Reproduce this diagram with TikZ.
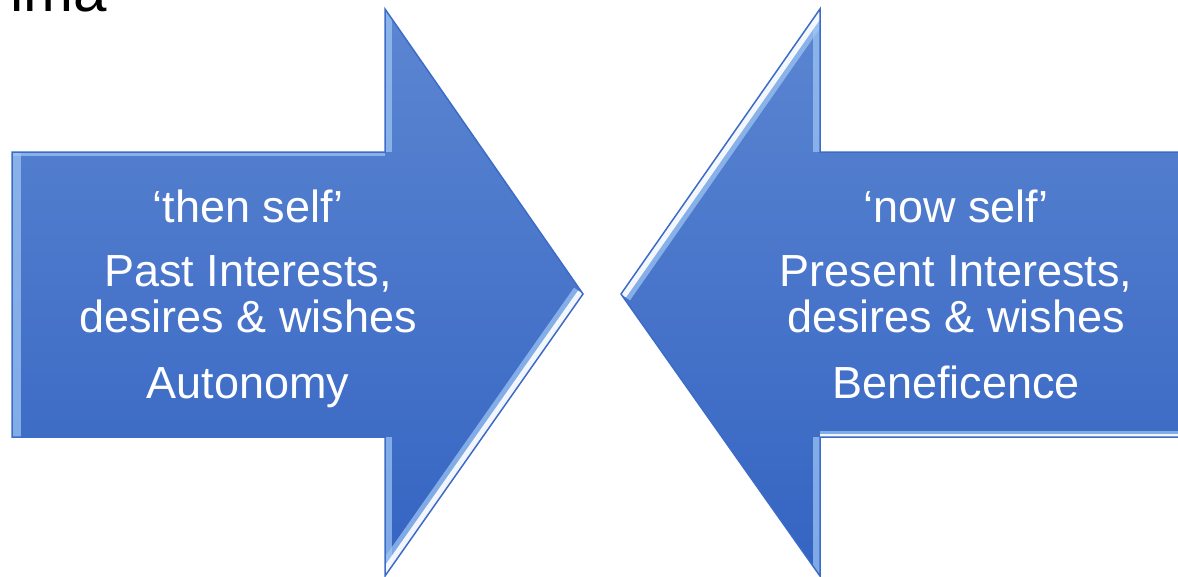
\documentclass[tikz,border=0pt]{standalone}
\usepackage{fontspec}
\setmainfont{Liberation Sans}
\usetikzlibrary{positioning}

\definecolor{arrowtop}{RGB}{92,134,210}
\definecolor{arrowbot}{RGB}{52,100,194}
\definecolor{arrowedge}{RGB}{60,108,200}
\definecolor{bevellight}{RGB}{160,200,245}

\tikzset{
  arrowbody/.style={top color=arrowtop,bottom color=arrowbot,draw=none},
  arrowrim/.style={draw=arrowedge,line width=1.5pt,line join=miter},
  bevel/.style={draw=bevellight,line width=22pt,opacity=0.7},
  glint/.style={draw=white,line width=12pt,opacity=0.9},
  words/.style={text=white,font=\fontsize{45}{46}\selectfont,align=center,anchor=base,inner sep=0pt},
}

\begin{document}
\begin{tikzpicture}[x=1pt,y=-1pt]
  \useasboundingbox (0,0) rectangle (1178,576);

  %Shapes
  \def\leftarrowpath{(12,152) -- (385,152) -- (385,9) -- (583,294) -- (385,576) -- (385,437) -- (12,437) -- cycle}
  \def\rightarrowpath{(1182,152) -- (820,152) -- (820,9) -- (621,294) -- (820,576) -- (820,437) -- (1182,437) -- cycle}

  \fill[arrowbody] \leftarrowpath;
  \begin{scope}
    \clip \leftarrowpath;
    \draw[bevel,line width=18pt] (12,152) -- (12,437);
    \draw[bevel,line width=8pt] (12,152) -- (385,152);
    \draw[bevel,line width=14pt] (385,9) -- (385,152);
    \draw[bevel,line width=14pt] (385,437) -- (385,576);
    \draw[bevel] (583,294) -- (385,576);
    \draw[glint] (583,294) -- (385,576);
  \end{scope}
  \draw[arrowrim] \leftarrowpath;

  \fill[arrowbody] \rightarrowpath;
  \begin{scope}
    \clip \rightarrowpath;
    \draw[bevel,line width=14pt] (820,9) -- (820,152);
    \draw[bevel,line width=14pt] (820,437) -- (820,576);
    \draw[bevel,line width=12pt] (820,437) -- (1182,437);
    \draw[glint,line width=6pt] (820,437) -- (1182,437);
    \draw[bevel] (820,9) -- (621,294);
    \draw[glint] (820,9) -- (621,294);
  \end{scope}
  \draw[arrowrim] \rightarrowpath;

  %Nodes
  \node at (10,11) [anchor=base west,inner sep=0pt,font=\fontsize{60}{60}\selectfont] (heading) {ima};

  \node at (248,222) [words] (thenself) {‘then self’};
  \node at (248,332) [words] (pastinterests) {Past Interests,\\desires \& wishes};
  \node at (248,398) [words] (autonomy) {Autonomy};

  \node at (956,222) [words] (nowself) {‘now self’};
  \node at (956,332) [words] (presentinterests) {Present Interests,\\desires \& wishes};
  \node at (956,398) [words] (beneficence) {Beneficence};
\end{tikzpicture}
\end{document}
